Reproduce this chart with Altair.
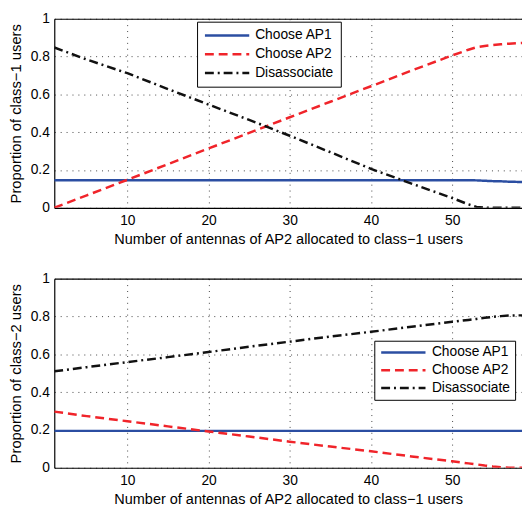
import altair as alt
import pandas as pd

# ---- data ----
x_vals = [1, 5, 10, 15, 20, 25, 30, 35, 40, 45, 50, 52, 53, 54, 55, 56, 57, 58, 59, 60]

series = ["Choose AP1", "Choose AP2", "Disassociate"]

c1_ap1 = [0.146, 0.146, 0.146, 0.146, 0.146, 0.146, 0.146, 0.146, 0.146, 0.146, 0.146,
          0.146, 0.145, 0.143, 0.141, 0.140, 0.138, 0.137, 0.136, 0.135]
c1_ap2 = [0.0, 0.066, 0.148, 0.231, 0.314, 0.396, 0.479, 0.561, 0.643, 0.726, 0.806,
          0.836, 0.849, 0.856, 0.861, 0.865, 0.868, 0.871, 0.873, 0.875]
c1_dis = [0.848, 0.784, 0.712, 0.628, 0.546, 0.465, 0.381, 0.294, 0.206, 0.128, 0.052,
          0.018, 0.005, 0.0, 0.0, 0.0, 0.0, 0.0, 0.0, 0.0]

c2_ap1 = [0.195] * 20
c2_ap2 = [0.297, 0.273, 0.246, 0.219, 0.192, 0.165, 0.138, 0.112, 0.087, 0.060, 0.034,
          0.023, 0.018, 0.012, 0.007, 0.003, 0.0, 0.0, 0.0, 0.0]
c2_dis = [0.510, 0.532, 0.559, 0.585, 0.612, 0.640, 0.667, 0.694, 0.719, 0.746, 0.772,
          0.782, 0.787, 0.793, 0.798, 0.802, 0.805, 0.806, 0.806, 0.806]

x_ticks = [10, 20, 30, 40, 50]
y_ticks = [0, 0.2, 0.4, 0.6, 0.8, 1]

colors = ["#2b4ea2", "#f0242a", "#111111"]
dashes = [[1, 0], [9, 5], [9, 4, 2, 4]]

FONT = "Liberation Sans"
XTITLE = "Number of antennas of AP2 allocated to class\u22121 users"


def long_df(a, b, c):
    rows = []
    for name, vals in zip(series, [a, b, c]):
        for xv, v in zip(x_vals, vals):
            rows.append({"x": xv, "v": v, "series": name})
    return pd.DataFrame(rows)


def panel(df, ytitle, lx, ly, pad, rowpad, symoff, laboff):
    xscale = alt.Scale(domain=[1, 58.6], nice=False, zero=False)
    yscale = alt.Scale(domain=[0, 1], nice=False)
    legend = alt.Legend(
        title=None, orient="none", legendX=lx, legendY=ly,
        fillColor="white", strokeColor="black",
        symbolType="M-4,0H4", symbolSize=126.5, symbolStrokeWidth=2.5,
        symbolOffset=symoff, labelOffset=laboff,
        labelFont=FONT, labelFontSize=14, labelColor="black",
        padding=pad, rowPadding=rowpad,
    )
    lines = alt.Chart(df).mark_line(strokeWidth=2.5, clip=True).encode(
        x=alt.X("x:Q", scale=xscale, axis=alt.Axis(
            values=x_ticks, title=XTITLE, grid=True, gridDash=[1, 5],
            gridColor="#444", gridOpacity=1, ticks=False, labelPadding=6,
            labelFlush=False, domainColor="black", domainWidth=1.2,
            labelFont=FONT, labelFontSize=14, labelColor="black",
            titleFont=FONT, titleFontSize=14.7, titleFontWeight="normal",
            titleColor="black", titlePadding=4)),
        y=alt.Y("v:Q", scale=yscale, axis=alt.Axis(
            values=y_ticks, format="~g", title=ytitle, grid=True, gridDash=[1, 5],
            gridColor="#444", gridOpacity=1, ticks=False, labelPadding=5,
            labelFlush=False, domainColor="black", domainWidth=1.2,
            labelFont=FONT, labelFontSize=14, labelColor="black",
            titleFont=FONT, titleFontSize=15, titleFontWeight="normal",
            titleColor="black", titlePadding=7)),
        color=alt.Color("series:N", scale=alt.Scale(domain=series, range=colors), legend=legend),
        strokeDash=alt.StrokeDash("series:N", scale=alt.Scale(domain=series, range=dashes), legend=legend),
    )
    top_border = alt.Chart(df).mark_rule(opacity=0, clip=True).encode(
        x=alt.X("x:Q", scale=xscale, axis=alt.Axis(
            orient="top", labels=False, ticks=False, grid=False, title=None,
            domainColor="black", domainWidth=1.2, minExtent=0, maxExtent=0)),
    )
    return alt.layer(lines, top_border).resolve_axis(x="independent").properties(width=475, height=192)


top = panel(long_df(c1_ap1, c1_ap2, c1_dis), "Proportion of class\u22121 users",
            145, 3, 7, 5, 16.5, 21.5)
bottom = panel(long_df(c2_ap1, c2_ap2, c2_dis), "Proportion of class\u22122 users",
               325, 63, 5, 4, 17.5, 22)

chart = alt.vconcat(top, bottom, spacing=72, bounds="flush").resolve_scale(
    color="independent", strokeDash="independent"
).resolve_legend(
    color="independent", strokeDash="independent"
).properties(
    padding={"left": 0, "top": 0, "right": 0, "bottom": 0},
).configure_view(stroke=None)

chart.save("out.html", embed_options={"renderer": "svg", "actions": False})
